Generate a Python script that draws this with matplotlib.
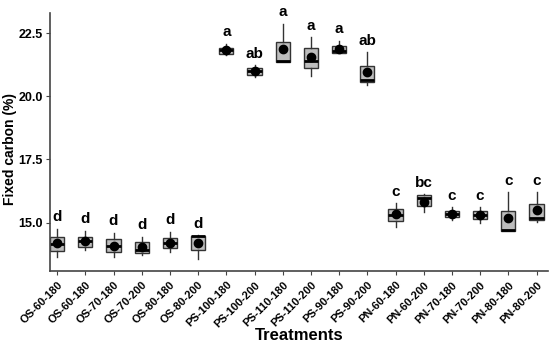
import matplotlib
matplotlib.use("Agg")
import matplotlib.pyplot as plt

plt.rcParams['font.family'] = ['Liberation Sans', 'DejaVu Sans']

treatments = ["OS-60-180", "OS-60-180", "OS-70-180", "OS-70-200", "OS-80-180", "OS-80-200",
              "PS-100-180", "PS-100-200", "PS-110-180", "PS-110-200", "PS-90-180", "PS-90-200",
              "PN-60-180", "PN-60-200", "PN-70-180", "PN-70-200", "PN-80-180", "PN-80-200"]
whisker_low = [13.65, 13.91, 13.65, 13.71, 13.85, 13.55,
               21.63, 20.75, 21.37, 20.80, 21.70, 20.44,
               14.84, 15.42, 15.11, 15.00, 14.67, 15.03]
q1 = [13.86, 14.03, 13.84, 13.81, 14.00, 13.92,
      21.66, 20.84, 21.37, 21.10, 21.72, 20.55,
      15.08, 15.66, 15.21, 15.16, 14.67, 15.11]
median = [14.16, 14.26, 14.08, 13.91, 14.21, 14.47,
          21.83, 20.99, 21.40, 21.39, 21.80, 20.64,
          15.30, 15.96, 15.34, 15.32, 14.71, 15.20]
q3 = [14.45, 14.45, 14.34, 14.22, 14.41, 14.47,
      21.92, 21.10, 22.16, 21.90, 22.00, 21.21,
      15.54, 16.09, 15.47, 15.45, 15.47, 15.74]
whisker_high = [14.75, 14.68, 14.60, 14.45, 14.64, 14.50,
                22.07, 21.23, 22.86, 22.33, 22.20, 21.74,
                15.77, 16.13, 15.61, 15.61, 16.20, 16.20]
means = [14.20, 14.26, 14.09, 14.04, 14.21, 14.18,
         21.83, 20.99, 21.87, 21.54, 21.88, 20.96,
         15.33, 15.83, 15.34, 15.32, 15.20, 15.50]
letters = ["d", "d", "d", "d", "d", "d",
           "a", "ab", "a", "a", "a", "ab",
           "c", "bc", "c", "c", "c", "c"]

stats = []
for i in range(len(treatments)):
    stats.append({"whislo": whisker_low[i], "q1": q1[i], "med": median[i],
                  "q3": q3[i], "whishi": whisker_high[i], "mean": means[i]})

fig = plt.figure(figsize=(5.5, 3.47), dpi=100)
ax = fig.add_axes([0.091, 0.22, 0.905, 0.743])

positions = list(range(1, len(treatments) + 1))
ax.bxp(stats, positions=positions, widths=0.5, showmeans=True, showcaps=False,
       showfliers=False, patch_artist=True,
       boxprops=dict(facecolor="#bdbdbd", edgecolor="#333333", linewidth=1.0),
       medianprops=dict(color="black", linewidth=2.0),
       whiskerprops=dict(color="#333333", linewidth=1.0),
       meanprops=dict(marker="o", markerfacecolor="black", markeredgecolor="black",
                      markersize=6))

for i in range(len(treatments)):
    ax.text(positions[i], whisker_high[i] + 0.18, letters[i], ha="center", va="bottom",
            fontsize=11, fontweight="bold")

ax.set_xlim(0.75, 18.4)
ax.set_ylim(13.1, 23.3)
ax.set_yticks([15.0, 17.5, 20.0, 22.5])
ax.set_yticklabels(["15.0", "17.5", "20.0", "22.5"], fontsize=9, fontweight="bold")
ax.set_xticks(positions)
ax.set_xticklabels(treatments, rotation=45, ha="right", rotation_mode="anchor",
                   fontsize=8, fontweight="bold")
ax.set_xlabel("Treatments", fontsize=12, fontweight="bold")
ax.set_ylabel("Fixed carbon (%)", fontsize=10, fontweight="bold")
ax.xaxis.set_label_coords(0.5, -0.222)
ax.yaxis.set_label_coords(-0.066, 0.47)

ax.spines["top"].set_visible(False)
ax.spines["right"].set_visible(False)
ax.spines["left"].set_color("#444444")
ax.spines["bottom"].set_color("#444444")
ax.spines["left"].set_linewidth(1.2)
ax.spines["bottom"].set_linewidth(1.2)
ax.tick_params(direction="out", length=3, color="#444444")
ax.tick_params(axis="y", pad=2)

fig.savefig("out.png", dpi=100)
